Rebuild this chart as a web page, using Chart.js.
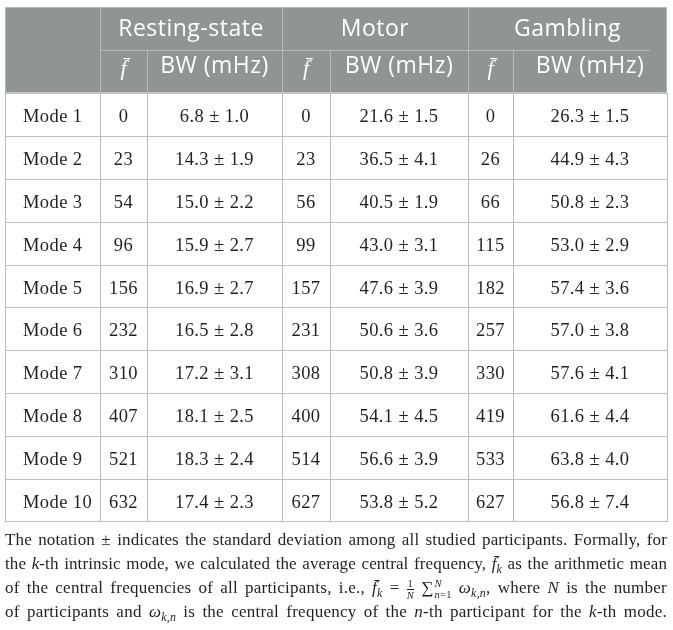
<!DOCTYPE html>
<html>
<head>
<meta charset="utf-8">
<script src="https://cdn.jsdelivr.net/npm/chart.js@4.4.1/dist/chart.umd.min.js"></script>
<style>
  html, body { margin: 0; padding: 0; background: #fff; }
  #wrap { position: relative; width: 673px; height: 630px; }
  #note {
    position: absolute; left: 5px; top: 528px; width: 662px;
    font-family: "Liberation Serif", "Times New Roman", serif;
    font-size: 17px; color: #231f20;
  }
  #note .ln { height: 24px; line-height: 24px; white-space: nowrap; }
  #note sub { font-size: 0.7em; line-height: 0; vertical-align: -0.3em; }
  .frac, .lim {
    display: inline-flex; flex-direction: column; vertical-align: middle;
    font-size: 0.62em; line-height: 1.05; text-align: center;
  }
  .frac span:first-child { border-bottom: 1px solid #231f20; padding: 0 1px; }
  .lim { text-align: left; margin-left: 1px; }
</style>
</head>
<body>
<div id="wrap">
  <canvas id="table"></canvas>
  <div id="note">
    <div class="ln"><span>The notation ± indicates the standard deviation among all studied participants. Formally, for</span></div>
    <div class="ln"><span>the <i>k</i>-th intrinsic mode, we calculated the average central frequency, <i>f̄</i><sub><i>k</i></sub> as the arithmetic mean</span></div>
    <div class="ln"><span>of the central frequencies of all participants, i.e., <i>f̄</i><sub><i>k</i></sub> = <span class="frac"><span>1</span><span><i>N</i></span></span> ∑<span class="lim"><span><i>N</i></span><span><i>n</i>=1</span></span> <i>ω</i><sub><i>k</i>,<i>n</i></sub>, where <i>N</i> is the number</span></div>
    <div class="ln"><span>of participants and <i>ω</i><sub><i>k</i>,<i>n</i></sub> is the central frequency of the <i>n</i>-th participant for the <i>k</i>-th mode.</span></div>
  </div>
</div>
<script>
// table values
const modes = ["Mode 1", "Mode 2", "Mode 3", "Mode 4", "Mode 5", "Mode 6", "Mode 7", "Mode 8", "Mode 9", "Mode 10"];
const conditions = ["Resting-state", "Motor", "Gambling"];
const subHeads = ["f\u0304", "BW (mHz)"];

const restFreq = [0, 23, 54, 96, 156, 232, 310, 407, 521, 632];
const restBW = [6.8, 14.3, 15.0, 15.9, 16.9, 16.5, 17.2, 18.1, 18.3, 17.4];
const restSD = [1.0, 1.9, 2.2, 2.7, 2.7, 2.8, 3.1, 2.5, 2.4, 2.3];

const motorFreq = [0, 23, 56, 99, 157, 231, 308, 400, 514, 627];
const motorBW = [21.6, 36.5, 40.5, 43.0, 47.6, 50.6, 50.8, 54.1, 56.6, 53.8];
const motorSD = [1.5, 4.1, 1.9, 3.1, 3.9, 3.6, 3.9, 4.5, 3.9, 5.2];

const gambFreq = [0, 26, 66, 115, 182, 257, 330, 419, 533, 627];
const gambBW = [26.3, 44.9, 50.8, 53.0, 57.4, 57.0, 57.6, 61.6, 63.8, 56.8];
const gambSD = [1.5, 4.3, 2.3, 2.9, 3.6, 3.8, 4.1, 4.4, 4.0, 7.4];

// layout (table units on the x scale)
const colEdges = [0, 95, 142, 277, 325, 463, 508, 662];
const rowKeys = ["head1", "head2"].concat(modes);

const headBg = "#8f9595";
const headLine = "#b6baba";
const dataLine = "#bdbdbd";
const ink = "#231f20";

const series = [
  [restFreq, restBW, restSD],
  [motorFreq, motorBW, motorSD],
  [gambFreq, gambBW, gambSD]
];

function buildColumn(c) {
  let data = [], texts = [];
  let span = [colEdges[c], colEdges[c + 1]];
  if (c == 0) {
    data = rowKeys.map(() => span);
    texts = ["", ""].concat(modes);
  } else {
    let k = Math.floor((c - 1) / 2);
    let isFreq = (c % 2) == 1;
    let s = series[k];
    data.push(isFreq ? [colEdges[c], colEdges[c + 2]] : null);
    texts.push(isFreq ? conditions[k] : "");
    data.push(span);
    texts.push(isFreq ? subHeads[0] : subHeads[1]);
    for (let i = 0; i < modes.length; i++) {
      data.push(span);
      texts.push(isFreq ? String(s[0][i]) : s[1][i].toFixed(1) + " ± " + s[2][i].toFixed(1));
    }
  }
  return {
    data: data,
    texts: texts,
    col: c,
    backgroundColor: (ctx) => ctx.dataIndex < 2 ? headBg : "#ffffff",
    borderWidth: 0,
    grouped: false,
    barPercentage: 1,
    categoryPercentage: 1
  };
}

const datasets = [];
for (let c = 0; c < colEdges.length - 1; c++) datasets.push(buildColumn(c));

function crisp(v) { return Math.round(v) + 0.5; }

const tableLines = {
  id: "tableLines",
  afterDatasetsDraw(chart) {
    const ctx = chart.ctx;
    const xs = chart.scales.x, ys = chart.scales.y;
    const step = ys.getPixelForValue(1) - ys.getPixelForValue(0);
    const rowTop = (i) => ys.getPixelForValue(0) - step / 2 + i * step;
    const colX = (c) => xs.getPixelForValue(colEdges[c]);
    const last = colEdges.length - 1;
    const line = (x0, y0, x1, y1, color) => {
      ctx.strokeStyle = color;
      ctx.beginPath();
      ctx.moveTo(x0, y0);
      ctx.lineTo(x1, y1);
      ctx.stroke();
    };
    ctx.save();
    ctx.lineWidth = 1;
    // data rows
    for (let i = 3; i < rowKeys.length; i++) {
      line(colX(0), crisp(rowTop(i)), colX(last), crisp(rowTop(i)), dataLine);
    }
    for (let c = 0; c <= last; c++) {
      line(crisp(colX(c)), rowTop(2), crisp(colX(c)), rowTop(rowKeys.length), dataLine);
    }
    line(colX(0), crisp(rowTop(rowKeys.length) - 1), colX(last), crisp(rowTop(rowKeys.length) - 1), dataLine);
    line(colX(0), crisp(rowTop(2)), colX(last), crisp(rowTop(2)), dataLine);
    // header rules
    for (let c = 1; c < last; c++) {
      line(crisp(colX(c)), rowTop(1), crisp(colX(c)), rowTop(2), headLine);
    }
    for (let c = 1; c < last; c += 2) {
      line(crisp(colX(c)), rowTop(0), crisp(colX(c)), rowTop(1), headLine);
    }
    line(colX(1), crisp(rowTop(1)), colX(last) - 17, crisp(rowTop(1)), headLine);
    // header frame
    line(colX(0), crisp(rowTop(0)), colX(last), crisp(rowTop(0)), headLine);
    line(crisp(colX(0)), rowTop(0), crisp(colX(0)), rowTop(2), headLine);
    line(crisp(colX(last)) - 1, rowTop(0), crisp(colX(last)) - 1, rowTop(2), headLine);
    ctx.restore();
  }
};

const cellText = {
  id: "cellText",
  afterDraw(chart) {
    const ctx = chart.ctx;
    ctx.save();
    chart.data.datasets.forEach((ds, di) => {
      const meta = chart.getDatasetMeta(di);
      meta.data.forEach((el, i) => {
        const t = ds.texts[i];
        if (!t) return;
        const p = el.getProps(["x", "base", "y"], true);
        const left = Math.min(p.x, p.base), right = Math.max(p.x, p.base);
        let y = p.y, x = (left + right) / 2;
        ctx.textAlign = "center";
        ctx.textBaseline = "alphabetic";
        if (i < 2 && t != subHeads[0]) {
          ctx.font = "23px 'Open Sans', 'Noto Sans', sans-serif";
          ctx.letterSpacing = "0.5px";
          ctx.fillStyle = "#ffffff";
          y += (i == 0) ? 8 : 2;
        } else if (i == 1) {
          ctx.font = "italic 22px 'Liberation Serif', serif";
          ctx.letterSpacing = "0px";
          ctx.fillStyle = "#ffffff";
          y += 4;
        } else {
          ctx.font = "18.5px 'Liberation Serif', serif";
          ctx.letterSpacing = "0.4px";
          ctx.fillStyle = ink;
          y += 7.6;
          if (ds.col == 0) {
            ctx.textAlign = "left";
            x = left + 18;
          }
        }
        ctx.fillText(t, x, y);
      });
    });
    ctx.restore();
  }
};

new Chart(document.getElementById("table"), {
  type: "bar",
  data: { labels: rowKeys, datasets: datasets },
  options: {
    indexAxis: "y",
    responsive: true,
    maintainAspectRatio: false,
    animation: false,
    events: [],
    layout: { padding: { left: 5, right: 6, top: 7, bottom: 108 } },
    scales: {
      x: { type: "linear", min: colEdges[0], max: colEdges[colEdges.length - 1], display: false },
      y: { type: "category", display: false }
    },
    plugins: { legend: { display: false }, tooltip: { enabled: false } }
  },
  plugins: [tableLines, cellText]
});

// justify the note lines to the table width
document.querySelectorAll("#note .ln").forEach(function (ln) {
  const inner = ln.firstElementChild;
  const txt = inner.textContent;
  const gaps = txt.split(" ").length - 1;
  let w = inner.getBoundingClientRect().width;
  if (w < 662) {
    ln.style.letterSpacing = ((662 - w) * 0.35 / txt.length) + "px";
    w = inner.getBoundingClientRect().width;
  }
  if (gaps > 0) ln.style.wordSpacing = ((662 - w) / gaps) + "px";
});
</script>
</body>
</html>
